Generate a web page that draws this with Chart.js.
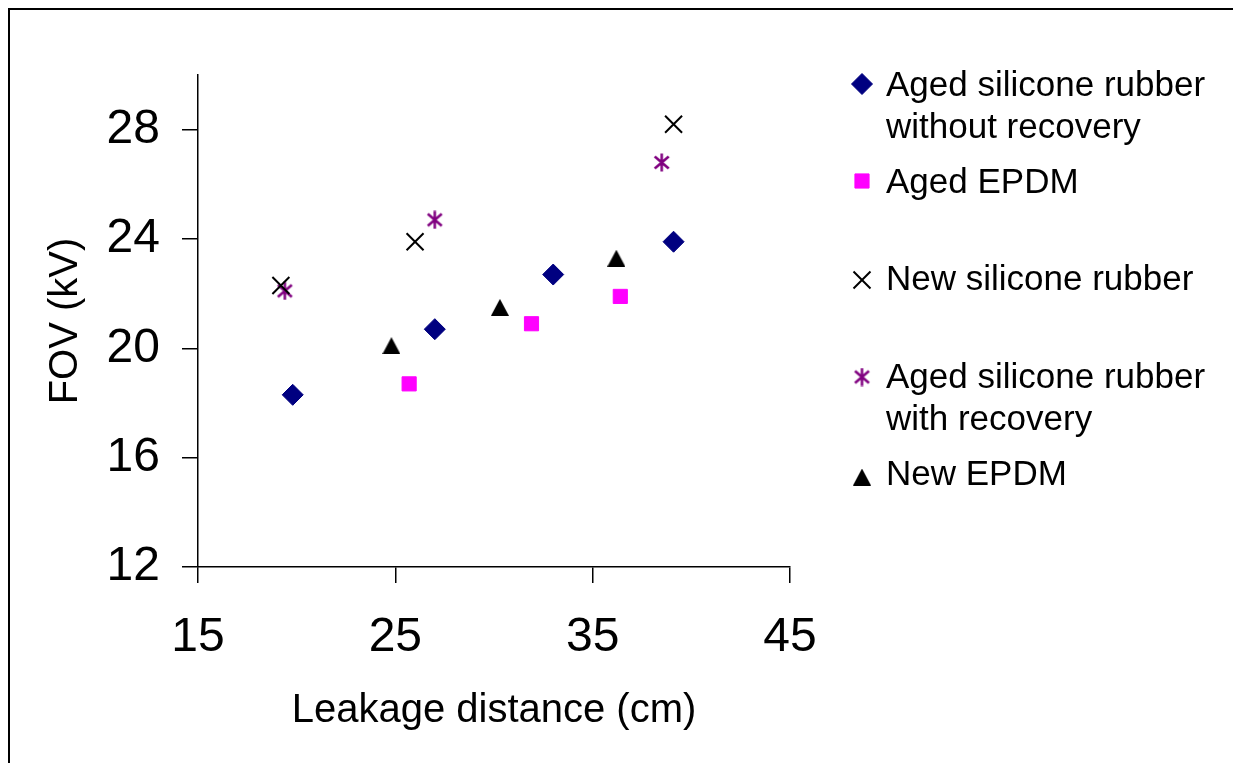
<!DOCTYPE html>
<html>
<head>
<meta charset="utf-8">
<script src="https://cdn.jsdelivr.net/npm/chart.js@4/dist/chart.umd.min.js"></script>
<style>
  html, body { margin: 0; padding: 0; background: #fff; }
  #wrap { width: 1233px; height: 763px; position: relative; }
</style>
</head>
<body>
<div id="wrap"><canvas id="fovChart" width="1233" height="763"></canvas></div>
<script>
// FOV vs leakage distance, one series per insulator material
const seriesNames = [
  ["Aged silicone rubber", "without recovery"],
  ["Aged EPDM"],
  ["New silicone rubber"],
  ["Aged silicone rubber", "with recovery"],
  ["New EPDM"]
];

// [leakage distance (cm), FOV (kV)]
const agedSrNoRecovery = [[19.8, 18.3], [27.0, 20.7], [33.0, 22.7], [39.1, 23.9]];
const agedEpdm = [[25.7, 18.7], [31.9, 20.9], [36.4, 21.9]];
const newSr = [[19.2, 22.3], [26.0, 23.9], [39.1, 28.2]];
const agedSrRecovery = [[19.4, 22.1], [27.0, 24.7], [38.5, 26.8]];
const newEpdm = [[24.8, 20.1], [30.3, 21.5], [36.2, 23.3]];

const xTicks = [15, 25, 35, 45];
const yTicks = [12, 16, 20, 24, 28];

const FONT = "'Liberation Sans', Arial, sans-serif";

// marker images for the shapes Chart.js doesn't have
function asteriskMarker(color) {
  const c = document.createElement("canvas");
  c.width = 19; c.height = 19;
  const g = c.getContext("2d");
  g.strokeStyle = color;
  g.lineWidth = 2.5;
  g.beginPath();
  g.moveTo(9.5, 0.5); g.lineTo(9.5, 18.5);
  g.moveTo(2.5, 3.5); g.lineTo(16.5, 15.5);
  g.moveTo(16.5, 3.5); g.lineTo(2.5, 15.5);
  g.stroke();
  return c;
}

function triangleMarker(color) {
  const c = document.createElement("canvas");
  c.width = 18; c.height = 17;
  const g = c.getContext("2d");
  g.fillStyle = color;
  g.beginPath();
  g.moveTo(9, 0); g.lineTo(18, 17); g.lineTo(0, 17);
  g.closePath();
  g.fill();
  return c;
}

const toPoints = arr => arr.map(p => ({ x: p[0], y: p[1] }));

const datasets = [
  { data: toPoints(agedSrNoRecovery), pointStyle: "rectRot", pointRadius: 10.5, backgroundColor: "#000080", borderColor: "#000080", borderWidth: 1 },
  { data: toPoints(agedEpdm), pointStyle: "rect", pointRadius: 10, backgroundColor: "#ff00ff", borderColor: "#ff00ff", borderWidth: 1 },
  { data: toPoints(newSr), pointStyle: "crossRot", pointRadius: 12, backgroundColor: "#000", borderColor: "#000", borderWidth: 2 },
  { data: toPoints(agedSrRecovery), pointStyle: asteriskMarker("#800080"), pointRadius: 10, backgroundColor: "#800080", borderColor: "#800080", borderWidth: 2 },
  { data: toPoints(newEpdm), pointStyle: triangleMarker("#000"), pointRadius: 10, backgroundColor: "#000", borderColor: "#000", borderWidth: 0 }
].map((ds, i) => Object.assign(ds, { label: seriesNames[i].join(" "), showLine: false }));

// legend rows: marker centre y and first text baseline
const legendRows = [
  { markerY: 84, baseline: 96 },
  { markerY: 181, baseline: 193 },
  { markerY: 280, baseline: 290 },
  { markerY: 377, baseline: 388 },
  { markerY: 477, baseline: 485 }
];

const framePlugin = {
  id: "frame",
  beforeDraw(chart) {
    const ctx = chart.ctx;
    ctx.save();
    ctx.fillStyle = "#fff";
    ctx.fillRect(0, 0, chart.width, chart.height);
    ctx.strokeStyle = "#000";
    ctx.lineWidth = 2;
    ctx.strokeRect(9, 9, 2000, 2000);
    ctx.restore();
  }
};

const sideLegend = {
  id: "sideLegend",
  afterDraw(chart) {
    const ctx = chart.ctx;
    ctx.save();
    ctx.font = "35px " + FONT;
    ctx.textBaseline = "alphabetic";
    ctx.textAlign = "left";
    chart.data.datasets.forEach((ds, i) => {
      const row = legendRows[i];
      ctx.fillStyle = ds.backgroundColor;
      ctx.strokeStyle = ds.borderColor;
      ctx.lineWidth = ds.borderWidth;
      Chart.helpers.drawPoint(ctx, {
        pointStyle: ds.pointStyle,
        radius: ds.pointRadius,
        borderWidth: ds.borderWidth,
        rotation: 0
      }, 862, row.markerY);
      ctx.fillStyle = "#000";
      seriesNames[i].forEach((line, k) => {
        ctx.fillText(line, 886, row.baseline + k * 42);
      });
    });
    ctx.restore();
  }
};

new Chart(document.getElementById("fovChart"), {
  type: "scatter",
  data: { datasets },
  options: {
    responsive: false,
    animation: false,
    events: [],
    layout: { padding: { left: 0, top: 75, right: 443, bottom: 0 } },
    plugins: { legend: { display: false }, tooltip: { enabled: false } },
    scales: {
      x: {
        type: "linear",
        min: 15,
        max: 45,
        afterFit: s => { s.height = 196; },
        afterBuildTicks: s => { s.ticks = xTicks.map(v => ({ value: v })); },
        grid: { drawOnChartArea: false, drawTicks: true, tickLength: 16, color: "#000", lineWidth: 1.5 },
        border: { display: true, color: "#000", width: 1.5 },
        ticks: { color: "#000", padding: 26, font: { family: FONT, size: 48 }, maxRotation: 0 },
        title: { display: true, text: "Leakage distance (cm)", color: "#000", padding: { top: 0, bottom: 28 }, font: { family: FONT, size: 40 } }
      },
      y: {
        type: "linear",
        min: 12,
        max: 30,
        afterFit: s => { s.width = 198; },
        afterBuildTicks: s => { s.ticks = yTicks.map(v => ({ value: v })); },
        grid: { drawOnChartArea: false, drawTicks: true, tickLength: 16, color: "#000", lineWidth: 1.5 },
        border: { display: true, color: "#000", width: 1.5 },
        ticks: { color: "#000", padding: 22, font: { family: FONT, size: 48 } },
        title: { display: true, text: "FOV (kV)", color: "#000", padding: { top: 42, bottom: 0 }, font: { family: FONT, size: 40 } }
      }
    }
  },
  plugins: [framePlugin, sideLegend]
});
</script>
</body>
</html>
